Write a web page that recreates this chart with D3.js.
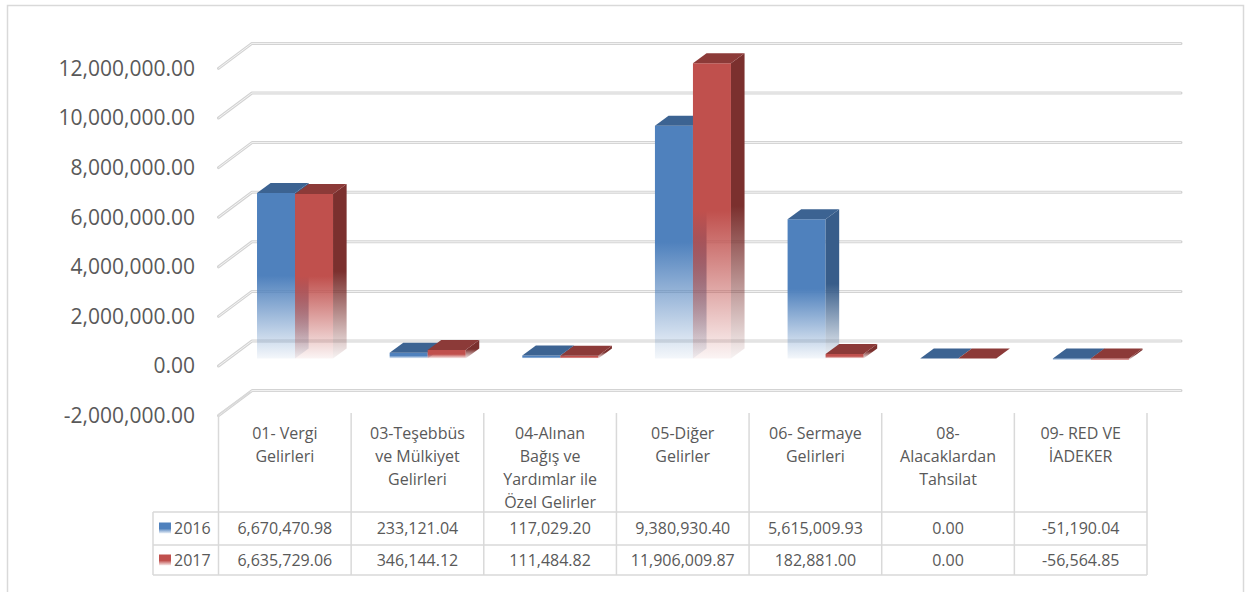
<!DOCTYPE html>
<html>
<head>
<meta charset="utf-8">
<script src="https://cdn.jsdelivr.net/npm/d3@7"></script>
<style>
  html, body { margin: 0; padding: 0; background: #fff; }
  svg { display: block; }
</style>
</head>
<body>
<div class="container"></div>
<script>
// chart data
const categories = ['01- Vergi Gelirleri', '03-Teşebbüs ve Mülkiyet Gelirleri', '04-Alınan Bağış ve Yardımlar ile Özel Gelirler',
  '05-Diğer Gelirler', '06- Sermaye Gelirleri', '08- Alacaklardan Tahsilat', '09- RED VE İADEKER'];
const categoryLines = [
  ['01- Vergi', 'Gelirleri'],
  ['03-Teşebbüs', 've Mülkiyet', 'Gelirleri'],
  ['04-Alınan', 'Bağış ve', 'Yardımlar ile', 'Özel Gelirler'],
  ['05-Diğer', 'Gelirler'],
  ['06- Sermaye', 'Gelirleri'],
  ['08-', 'Alacaklardan', 'Tahsilat'],
  ['09- RED VE', 'İADEKER']
];
const years = ['2016', '2017'];
const values2016 = [6670470.98, 233121.04, 117029.20, 9380930.40, 5615009.93, 0.00, -51190.04];
const values2017 = [6635729.06, 346144.12, 111484.82, 11906009.87, 182881.00, 0.00, -56564.85];
const yTicks = [-2000000, 0, 2000000, 4000000, 6000000, 8000000, 10000000, 12000000];

const series = [
  {year: years[0], values: values2016, front: '#4f81bd', top: '#3c6392', side: '#385d8a'},
  {year: years[1], values: values2017, front: '#c0504d', top: '#8c3a38', side: '#7b302e'}
];

const width = 1247;
const height = 592;
const textColor = '#595959';
const lineColor = '#d9d9d9';

// number format with plain hyphen minus
const fmt = d3.formatLocale({decimal: '.', thousands: ',', grouping: [3], currency: ['', ''], minus: '-'}).format(',.2f');

// oblique 3D: depth vector from front of floor to back wall
const DX = 34, DY = -25;
const d0 = 0.3, d1 = 0.7; // bar depth span

const y = d3.scaleLinear().domain([-2000000, 12000000]).range([415.6, 68.4]);
const x0 = d3.scaleBand().domain(categories).range([218.5, 1147]);
const x1 = d3.scaleBand().domain(years).range([0, x0.bandwidth()]).paddingOuter(0.745);

const svg = d3.select('.container')
  .append('svg')
  .attr('width', width)
  .attr('height', height);

// outer frame
svg.append('rect')
  .attr('x', 7.5).attr('y', 5.5)
  .attr('width', 1236).attr('height', 620)
  .attr('fill', '#fff')
  .attr('stroke', lineColor)
  .attr('stroke-width', 1.5);

const defs = svg.append('defs');
series.forEach((s, i) => {
  ['front', 'side'].forEach(face => {
    const g = defs.append('linearGradient')
      .attr('id', `g${i}${face}`)
      .attr('x1', 0).attr('y1', 0).attr('x2', 0).attr('y2', 1);
    g.append('stop').attr('offset', 0).attr('stop-color', s[face]).attr('stop-opacity', 1);
    g.append('stop').attr('offset', 0.5).attr('stop-color', s[face]).attr('stop-opacity', 1);
    g.append('stop').attr('offset', 1).attr('stop-color', s[face]).attr('stop-opacity', 0.06);
  });
});

// gridlines: diagonal on the left side wall + horizontal on back wall
const xBackL = x0.range()[0] + DX - 0.5;
const xBackR = x0.range()[1] + DX;
const grid = svg.append('g');
const gridPath = v => {
  const yf = y(v), yb = y(v) + DY;
  return `M${x0.range()[0]},${yf}L${xBackL},${yb}L${xBackR},${yb}`;
};
grid.selectAll('path.outer')
  .data(yTicks)
  .join('path')
  .attr('d', gridPath)
  .attr('fill', 'none')
  .attr('stroke', '#d3d3d3')
  .attr('stroke-width', 3)
  .attr('stroke-linecap', 'round')
  .attr('stroke-linejoin', 'round');
grid.selectAll('path.inner')
  .data(yTicks)
  .join('path')
  .attr('d', gridPath)
  .attr('fill', 'none')
  .attr('stroke', '#f4f4f4')
  .attr('stroke-width', 1);

// y axis labels
svg.append('g')
  .selectAll('text')
  .data(yTicks)
  .join('text')
  .attr('x', 195)
  .attr('y', d => y(d))
  .attr('dy', '0.35em')
  .attr('text-anchor', 'end')
  .attr('font-family', 'Open Sans, sans-serif')
  .attr('font-size', 21)
  .attr('fill', textColor)
  .text(d => fmt(d));

// bars
const bars = svg.append('g');
categories.forEach((c, ci) => {
  series.forEach((s, si) => {
    const v = s.values[ci];
    const bw = x1.bandwidth();
    const X = x0(c) + x1(s.year) + d0 * DX;
    const yTop = y(Math.max(v, 0)) + d0 * DY;
    const yBot = y(Math.min(v, 0)) + d0 * DY;
    const dx = (d1 - d0) * DX, dy = (d1 - d0) * DY;
    const g = bars.append('g');
    if (yBot - yTop > 0.5) {
      g.append('path')
        .attr('d', `M${X},${yTop}H${X + bw}V${yBot}H${X}Z`)
        .attr('fill', `url(#g${si}front)`);
      g.append('path')
        .attr('d', `M${X + bw},${yTop}L${X + bw + dx},${yTop + dy}L${X + bw + dx},${yBot + dy}L${X + bw},${yBot}Z`)
        .attr('fill', `url(#g${si}side)`);
    }
    g.append('path')
      .attr('d', `M${X},${yTop}L${X + bw},${yTop}L${X + bw + dx},${yTop + dy}L${X + dx},${yTop + dy}Z`)
      .attr('fill', s.top);
  });
});

// data table
const table = svg.append('g').attr('font-family', 'Open Sans, sans-serif').attr('fill', textColor);
const tLeft = 153, tTop = 413, rowTop = 512, rowMid = 545, tBottom = 575;
const xL = x0.range()[0], xR = x0.range()[1];
const tl = table.append('g').attr('stroke', lineColor).attr('stroke-width', 1.5).attr('fill', 'none');
// left edge continues the floor diagonal
tl.append('path').attr('d', `M${xL + DX - 2},${y(-2000000) + DY + 1}L${xL},${y(-2000000) - 1}V${tBottom}`);
tl.selectAll('line.v')
  .data(categories.slice(1).concat(['end']))
  .join('line')
  .attr('x1', (d, i) => xL + (i + 1) * x0.step())
  .attr('x2', (d, i) => xL + (i + 1) * x0.step())
  .attr('y1', tTop)
  .attr('y2', tBottom);
[rowTop, rowMid, tBottom].forEach(yy => {
  tl.append('line').attr('x1', tLeft).attr('x2', xR).attr('y1', yy).attr('y2', yy);
});
tl.append('line').attr('x1', tLeft).attr('x2', tLeft).attr('y1', rowTop).attr('y2', tBottom);

// header labels
categoryLines.forEach((lines, ci) => {
  const cx = x0(categories[ci]) + x0.bandwidth() / 2;
  table.append('g')
    .selectAll('text')
    .data(lines)
    .join('text')
    .attr('x', cx)
    .attr('y', (d, i) => 439 + i * 23)
    .attr('text-anchor', 'middle')
    .attr('font-size', 16)
    .text(d => d);
});

// rows
const rowCenters = [528.5, 560.5];
series.forEach((s, si) => {
  const cy = rowCenters[si];
  const lg = defs.append('linearGradient')
    .attr('id', `leg${si}`)
    .attr('x1', 0).attr('y1', 0).attr('x2', 0).attr('y2', 1);
  lg.append('stop').attr('offset', 0).attr('stop-color', s.front);
  lg.append('stop').attr('offset', 0.55).attr('stop-color', s.front);
  lg.append('stop').attr('offset', 1).attr('stop-color', s.front).attr('stop-opacity', 0.1);
  table.append('rect')
    .attr('x', 159).attr('y', cy - 6)
    .attr('width', 12).attr('height', 11)
    .attr('fill', `url(#leg${si})`);
  table.append('text')
    .attr('x', 174).attr('y', cy)
    .attr('dy', '0.35em')
    .attr('font-size', 16)
    .text(s.year);
  table.append('g')
    .selectAll('text')
    .data(s.values)
    .join('text')
    .attr('x', (d, i) => x0(categories[i]) + x0.bandwidth() / 2)
    .attr('y', cy)
    .attr('dy', '0.35em')
    .attr('text-anchor', 'middle')
    .attr('font-size', 16)
    .text(d => fmt(d));
});
</script>
</body>
</html>
